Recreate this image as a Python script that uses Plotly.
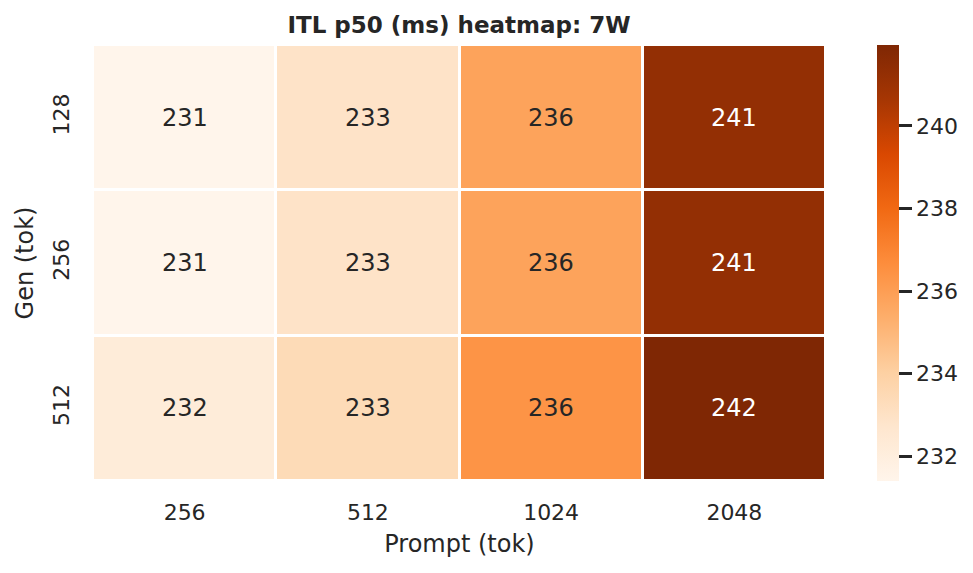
import plotly.graph_objects as go

prompt_tok = ["256", "512", "1024", "2048"]
gen_tok = ["128", "256", "512"]
itl_p50 = [
    [231.4, 232.9, 235.8, 241.3],
    [231.4, 232.9, 235.8, 241.3],
    [232.2, 233.4, 236.4, 241.96],
]

# matplotlib "Oranges"
ORANGES = [
    [0.0, "#fff5eb"], [0.125, "#fee6ce"], [0.25, "#fdd0a2"], [0.375, "#fdae6b"],
    [0.5, "#fd8d3c"], [0.625, "#f16913"], [0.75, "#d94801"], [0.875, "#a63603"],
    [1.0, "#7f2704"],
]
FONT = "DejaVu Sans"
INK = "#262626"

zmin = min(min(r) for r in itl_p50)
zmax = max(max(r) for r in itl_p50)

fig = go.Figure(go.Heatmap(
    x=prompt_tok, y=gen_tok, z=itl_p50, colorscale=ORANGES, zmin=zmin, zmax=zmax,
    xgap=3, ygap=3, hoverongaps=False,
    colorbar=dict(thickness=22, len=1.0, lenmode="fraction", y=0.5, yanchor="middle",
                  x=1.069, xanchor="left", xpad=0, ypad=0, outlinewidth=0,
                  ticks="outside", ticklen=13, tickwidth=2.5, tickcolor=INK,
                  tickvals=[232, 234, 236, 238, 240],
                  tickfont=dict(size=22, color=INK, family=FONT)),
))

# category index positions (strings like "256" would be read as indices)
for i in range(len(gen_tok)):
    for j in range(len(prompt_tok)):
        v = itl_p50[i][j]
        frac = (v - zmin) / (zmax - zmin)
        fig.add_annotation(x=j, y=i, text=f"{v:.0f}", showarrow=False,
                           font=dict(size=24, family=FONT,
                                     color="white" if frac > 0.6 else INK))

fig.update_layout(
    width=973, height=573, template="plotly_white",
    paper_bgcolor="white", plot_bgcolor="white",
    font=dict(family=FONT, color=INK),
    margin=dict(l=85, r=155, t=37, b=100),
    title=dict(text="<b>ITL p50 (ms) heatmap: 7W</b>", x=0.4635, xanchor="center",
               y=0.970, yanchor="middle", font=dict(size=23, family=FONT, color=INK)),
    xaxis=dict(type="category", range=[-0.5, 3.5],
               title=dict(text="Prompt (tok)", font=dict(size=24), standoff=11),
               tickfont=dict(size=22), showgrid=False, zeroline=False, ticks="",
               ticklabelstandoff=16),
    yaxis=dict(type="category", range=[2.5, -0.5],
               title=dict(text="Gen (tok)", font=dict(size=24), standoff=8),
               tickfont=dict(size=22), tickangle=-90,
               showgrid=False, zeroline=False, ticks="", ticklabelstandoff=19),
)

fig.write_html("out.html")
